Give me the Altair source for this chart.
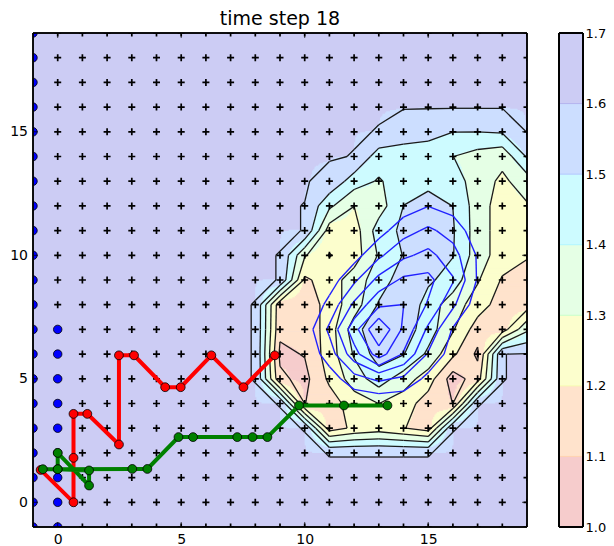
import numpy as np
import pandas as pd
import altair as alt

# ---------------- data ----------------
BG = 1.605
XS = list(range(-1, 20))
YS = list(range(-1, 20))

F_X0 = 7  # rows give values for x = 7..19
F_ROWS = {
    15: [BG, BG, BG, BG, BG, BG, 1.598, 1.55, 1.53, 1.501, 1.501, 1.51, 1.603],
    14: [BG, BG, BG, BG, BG, 1.598, 1.45, 1.45, 1.45, 1.401, 1.36, 1.33, 1.51],
    13: [BG, BG, BG, BG, 1.58, 1.45, 1.39, 1.45, 1.48, 1.45, 1.35, 1.28, 1.35],
    12: [BG, BG, BG, 1.599, 1.42, 1.301, 1.35, 1.501, 1.53, 1.499, 1.35, 1.25, 1.29],
    11: [BG, BG, BG, 1.599, 1.25, 1.25, 1.45, 1.52, 1.55, 1.51, 1.35, 1.25, 1.22],
    10: [BG, BG, 1.599, 1.31, 1.195, 1.25, 1.41, 1.505, 1.55, 1.505, 1.35, 1.25, 1.21],
    9:  [BG, BG, 1.599, 1.18, 1.25, 1.35, 1.45, 1.55, 1.52, 1.45, 1.31, 1.19, 1.15],
    8:  [BG, 1.599, 1.13, 1.12, 1.25, 1.35, 1.51, 1.601, 1.45, 1.35, 1.25, 1.15, 1.15],
    7:  [BG, 1.599, 1.12, 1.12, 1.25, 1.45, 1.601, 1.55, 1.45, 1.31, 1.15, 1.15, 1.38],
    6:  [BG, 1.599, 1.08, 1.105, 1.25, 1.41, 1.55, 1.505, 1.38, 1.22, 1.08, 1.599, BG],
    5:  [BG, 1.599, 1.12, 1.07, 1.22, 1.35, 1.45, 1.35, 1.25, 1.05, 1.15, 1.599, BG],
    4:  [BG, BG, 1.599, 1.098, 1.15, 1.25, 1.301, 1.25, 1.15, 1.099, 1.599, BG, BG],
    3:  [BG, BG, BG, 1.599, 1.15, 1.22, 1.25, 1.205, 1.15, 1.599, BG, BG, BG],
    2:  [BG, BG, BG, BG, 1.599, 1.599, 1.599, 1.599, 1.599, BG, BG, BG, BG],
}

B_X0 = 9  # second field (blue contours), x = 9..18
B_ROWS = {
    12: [0, 0, 0, 0, 0, 0.5, 0.98, 0.6, 0, 0],
    11: [0, 0, 0, 0, 0.6, 1.6, 2.2, 1.6, 0.4, 0],
    10: [0, 0, 0, 0.6, 1.8, 2.8, 3.3, 2.4, 0.9, 0],
    9:  [0, 0, 0.5, 1.8, 3.3, 4.2, 4.3, 3.1, 0.9, 0],
    8:  [0, 0, 1.3, 3.2, 4.8, 5.02, 3.9, 2.2, 0.4, 0],
    7:  [0, 0.4, 2.2, 4.6, 7.0, 4.8, 2.8, 0.9, 0, 0],
    6:  [0, 0.2, 1.5, 3.6, 5.5, 3.9, 1.9, 0.5, 0, 0],
    5:  [0, 0, 0.5, 1.6, 2.2, 1.8, 0.7, 0, 0, 0],
    4:  [0, 0, 0, 0.2, 0.2, 0.2, 0, 0, 0, 0],
}

FILL_LEVELS = [1.0, 1.1, 1.2, 1.3, 1.4, 1.5, 1.6, 1.7]
LINE_LEVELS = [1.1, 1.2, 1.3, 1.4, 1.5, 1.6]
BLUE_LEVELS = [1, 2, 3, 4, 5, 6]
BAND_COLORS = ["#f6cccc", "#ffe3cc", "#fcfecd", "#e5ffe5", "#cdfbff", "#ccdeff", "#ccccf4"]
BAND_EDGES = ["#f5bcbc", "#ffd2b0", "#f7fcae", "#c8ffc8", "#b0f5ff", "#b0c8ff", "#b4b4ee"]

RED_X = [-0.69, 0.64, 0.64, 0.64, 1.2, 2.48, 2.48, 3.09, 4.35, 4.98, 6.22, 7.52, 8.79]
RED_Y = [1.31, 0.0, 1.8, 3.58, 3.58, 2.34, 5.95, 5.95, 4.66, 4.66, 5.95, 4.66, 5.95]
GREEN_X = [-0.6, 0.0, 0.0, 1.27, 1.27, 0.0, 3.02, 3.63, 4.89, 5.48, 7.27, 7.89, 8.49, 9.77, 11.59, 13.35]
GREEN_Y = [1.34, 1.34, 2.0, 0.68, 1.29, 1.34, 1.35, 1.35, 2.64, 2.64, 2.64, 2.64, 2.64, 3.92, 3.92, 3.92]

BLUE_DOTS_X = [-1] * 21 + [0] * 9
BLUE_DOTS_Y = list(range(-1, 20)) + list(range(-1, 8))

TICKS = [0, 5, 10, 15]
TITLE = "time step 18"
FONT = "DejaVu Sans"


# ---------------- helpers ----------------
def build(rows, x0, bg):
    g = np.full((len(YS), len(XS)), float(bg))
    for y, vals in rows.items():
        for k, v in enumerate(vals):
            g[YS.index(y), XS.index(x0 + k)] = v
    return g


def march(g, level):
    segs = []
    ny, nx = g.shape
    for j in range(ny - 1):
        for i in range(nx - 1):
            v00, v10 = g[j, i], g[j, i + 1]
            v01, v11 = g[j + 1, i], g[j + 1, i + 1]
            x0, x1, y0, y1 = XS[i], XS[i + 1], YS[j], YS[j + 1]
            edges = {
                "b": (v00, v10, (x0, y0), (x1, y0)),
                "r": (v10, v11, (x1, y0), (x1, y1)),
                "t": (v01, v11, (x0, y1), (x1, y1)),
                "l": (v00, v01, (x0, y0), (x0, y1)),
            }
            pts = {}
            for k, (va, vb, pa, pb) in edges.items():
                if (va > level) != (vb > level):
                    t = (level - va) / (vb - va)
                    pts[k] = (pa[0] + t * (pb[0] - pa[0]), pa[1] + t * (pb[1] - pa[1]))
            if len(pts) == 2:
                a, b = list(pts.values())
                segs.append((a, b))
            elif len(pts) == 4:
                c = (v00 + v10 + v01 + v11) / 4
                if (c > level) == (v00 > level):
                    segs += [(pts["b"], pts["r"]), (pts["l"], pts["t"])]
                else:
                    segs += [(pts["l"], pts["b"]), (pts["t"], pts["r"])]
    return segs


def seg_frame(g, levels):
    rows = []
    for L in levels:
        for (a, b) in march(g, L):
            rows.append({"x": a[0], "y": a[1], "x2": b[0], "y2": b[1], "level": L})
    return pd.DataFrame(rows)


F = build(F_ROWS, F_X0, BG)
B = build(B_ROWS, B_X0, 0.0)

# filled bands: sample the grid field and merge runs of equal band along rows
d = 0.05
xc = np.arange(7 + d / 2, 19, d)
yc = np.arange(1 + d / 2, 17, d)
X, Y = np.meshgrid(xc, yc)
ix = np.floor(X).astype(int) - XS[0]
iy = np.floor(Y).astype(int) - YS[0]
fx = X - np.floor(X)
fy = Y - np.floor(Y)
V = (F[iy, ix] * (1 - fx) * (1 - fy) + F[iy, ix + 1] * fx * (1 - fy)
     + F[iy + 1, ix] * (1 - fx) * fy + F[iy + 1, ix + 1] * fx * fy)
BANDS = np.digitize(V, FILL_LEVELS[1:-1])
rects = []
for r in range(len(yc)):
    row = BANDS[r]
    start = 0
    for c in range(1, len(xc) + 1):
        if c == len(xc) or row[c] != row[start]:
            bnd = int(row[start])
            if bnd < 6:
                rects.append({"x": xc[start] - d / 2, "x2": xc[c - 1] + d * 0.9,
                              "y": yc[r] - d / 2, "y2": yc[r] + d * 1.1, "band": bnd})
            start = c
rect_df = pd.DataFrame(rects)

black_df = seg_frame(F, LINE_LEVELS)
blue_df = seg_frame(B, BLUE_LEVELS)

plus_df = pd.DataFrame([{"x": x, "y": y} for x in XS for y in YS])
dots_df = pd.DataFrame({"x": BLUE_DOTS_X, "y": BLUE_DOTS_Y})
red_df = pd.DataFrame({"x": RED_X, "y": RED_Y, "o": range(len(RED_X))})
green_df = pd.DataFrame({"x": GREEN_X, "y": GREEN_Y, "o": range(len(GREEN_X))})
tick_df = pd.DataFrame({"t": TICKS})

# ---------------- chart ----------------
W = H = 494
xs = alt.Scale(domain=[-1, 19], nice=False, zero=False)
ys = alt.Scale(domain=[-1, 19], nice=False, zero=False)
axis_common = dict(ticks=False, domain=False, grid=False, title=None,
                   labelFont=FONT, labelColor="black")
xax = alt.Axis(values=TICKS, labelPadding=5, labelFontSize=14, **axis_common)
yax = alt.Axis(values=TICKS, labelPadding=5.5, labelFontSize=14, **axis_common)
band_scale = alt.Scale(domain=list(range(7)), range=BAND_COLORS)

bg_layer = alt.Chart(tick_df).mark_rect(fill=BAND_COLORS[6]).encode(
    x=alt.value(0), x2=alt.value(W), y=alt.value(0), y2=alt.value(H))
fill_layer = alt.Chart(rect_df).mark_rect(clip=True).encode(
    x=alt.X("x:Q", scale=xs, axis=xax), x2="x2:Q",
    y=alt.Y("y:Q", scale=ys, axis=yax), y2="y2:Q",
    fill=alt.Fill("band:O", scale=band_scale, legend=None),
)
black_layer = alt.Chart(black_df).mark_rule(color="#1a1a1a", strokeWidth=1.3, clip=True).encode(
    x="x:Q", y="y:Q", x2="x2:Q", y2="y2:Q")
blue_layer = alt.Chart(blue_df).mark_rule(color="#2020ff", strokeWidth=1.4, clip=True).encode(
    x="x:Q", y="y:Q", x2="x2:Q", y2="y2:Q")
plus_layer = alt.Chart(plus_df).mark_point(
    shape="M-1,0L1,0M0,-1L0,1", filled=False, stroke="black", strokeWidth=1.7, size=49, clip=True, opacity=1
).encode(x="x:Q", y="y:Q")
dots_layer = alt.Chart(dots_df).mark_point(
    shape="circle", filled=True, fill="#0000ff", stroke="black", strokeWidth=0.8, size=72, clip=True, opacity=1
).encode(x="x:Q", y="y:Q")
red_line = alt.Chart(red_df).mark_line(color="#ff0000", strokeWidth=4, clip=True).encode(
    x="x:Q", y="y:Q", order="o:Q")
red_pts = alt.Chart(red_df).mark_point(
    shape="circle", filled=True, fill="#ff0000", stroke="black", strokeWidth=0.8, size=78, clip=True, opacity=1
).encode(x="x:Q", y="y:Q")
green_line = alt.Chart(green_df).mark_line(color="#008000", strokeWidth=4, clip=True).encode(
    x="x:Q", y="y:Q", order="o:Q")
green_pts = alt.Chart(green_df).mark_point(
    shape="circle", filled=True, fill="#008000", stroke="black", strokeWidth=0.8, size=78, clip=True, opacity=1
).encode(x="x:Q", y="y:Q")
xt_b = alt.Chart(tick_df).mark_tick(color="black", size=10, thickness=1, clip=True).encode(
    x="t:Q", y=alt.value(H))
xt_t = alt.Chart(tick_df).mark_tick(color="black", size=10, thickness=1, clip=True).encode(
    x="t:Q", y=alt.value(0))
yt_l = alt.Chart(tick_df).mark_tick(color="black", size=10, thickness=1, clip=True).encode(
    y="t:Q", x=alt.value(0))
yt_r = alt.Chart(tick_df).mark_tick(color="black", size=10, thickness=1, clip=True).encode(
    y="t:Q", x=alt.value(W))
frame = alt.Chart(tick_df).mark_rect(fill=None, stroke="black", strokeWidth=1).encode(
    x=alt.value(0), x2=alt.value(W), y=alt.value(0), y2=alt.value(H))

main = alt.layer(
    bg_layer, fill_layer, black_layer, blue_layer, plus_layer, dots_layer,
    red_line, red_pts, green_line, green_pts, xt_b, xt_t, yt_l, yt_r, frame
).properties(
    width=W, height=H,
    title=alt.Title(TITLE, fontSize=19, font=FONT, fontWeight="normal", offset=4, color="black"),
)

cb_df = pd.DataFrame({
    "lo": FILL_LEVELS[:-1], "hi": FILL_LEVELS[1:], "band": list(range(7)),
    "edge": BAND_EDGES,
})
cb_scale = alt.Scale(domain=[1.0, 1.7], nice=False, zero=False)
cb = alt.Chart(cb_df).mark_rect().encode(
    y=alt.Y("lo:Q", scale=cb_scale,
            axis=alt.Axis(orient="right", values=FILL_LEVELS, format=".1f", labelPadding=2,
                          labelFontSize=13, **axis_common)),
    y2="hi:Q",
    x=alt.value(0), x2=alt.value(24),
    fill=alt.Fill("band:O", scale=band_scale, legend=None),
).properties(width=24, height=H)
cb_edges = alt.Chart(cb_df.iloc[1:]).mark_rule(strokeWidth=1).encode(
    y=alt.Y("lo:Q", scale=cb_scale), x=alt.value(0), x2=alt.value(24),
    color=alt.Color("edge:N", scale=None),
)
cb_frame = alt.Chart(cb_df).mark_rect(fill=None, stroke="black", strokeWidth=1).encode(
    x=alt.value(0), x2=alt.value(24), y=alt.value(0), y2=alt.value(H))
cbar = alt.layer(cb, cb_edges, cb_frame).properties(width=24, height=H)

chart = alt.hconcat(main, cbar, spacing=32, bounds="flush").properties(
    padding={"left": 1, "top": 1, "right": 0, "bottom": 0},
    background="white",
).configure_view(
    stroke=None
)

chart.save("out.html", embed_options={"renderer": "svg", "actions": False})
